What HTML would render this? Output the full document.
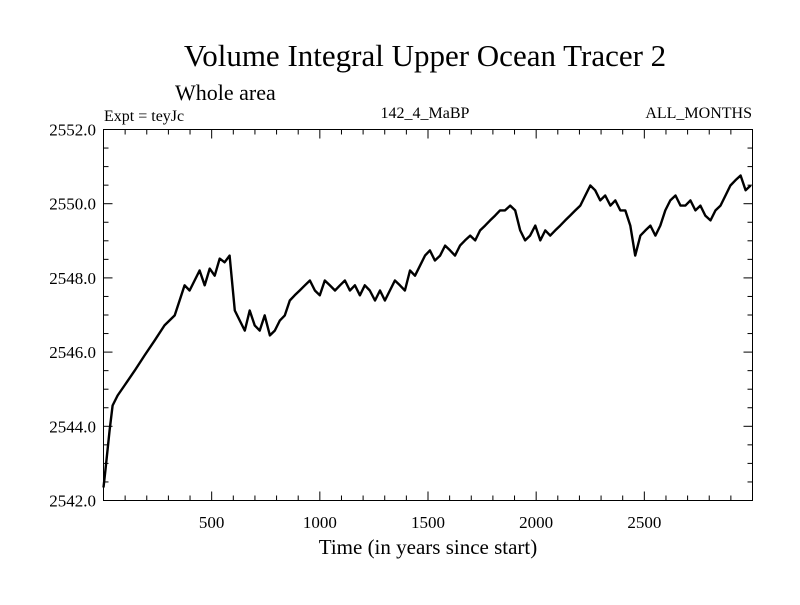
<!DOCTYPE html>
<html><head><meta charset="utf-8"><style>
body{margin:0;background:#fff}
svg text{font-family:"Liberation Serif",serif;fill:#000}
</style></head><body>
<svg id="chart" width="800" height="600" xmlns="http://www.w3.org/2000/svg">
<rect width="800" height="600" fill="#fff"/>
<text x="425" y="66" font-size="31" text-anchor="middle">Volume Integral Upper Ocean Tracer 2</text>
<text x="175" y="100" font-size="22">Whole area</text>
<text x="104" y="121" font-size="16">Expt = teyJc</text>
<text x="425" y="118" font-size="16" text-anchor="middle">142_4_MaBP</text>
<text x="752" y="118" font-size="16" text-anchor="end">ALL_MONTHS</text>
<text x="428" y="554" font-size="21" text-anchor="middle">Time (in years since start)</text>
<g id="ticks"></g>
<path id="line" fill="none" stroke="#000" stroke-width="2.4" stroke-linejoin="round"/>
<rect x="103.5" y="129.5" width="649" height="371" fill="none" stroke="#000" stroke-width="1"/>
</svg>
<script>
const years=[0,9,28,42,65,97,144,190,236,282,329,352,375,398,421,444,468,491,514,537,560,583,607,630,653,676,699,722,745,769,792,815,838,861,884,907,931,954,977,1000,1023,1046,1070,1093,1116,1139,1162,1185,1208,1231,1255,1278,1301,1324,1347,1370,1393,1417,1440,1463,1486,1509,1532,1556,1579,1602,1625,1648,1671,1695,1718,1741,1764,1787,1810,1833,1856,1880,1903,1926,1949,1972,1996,2019,2042,2065,2088,2111,2134,2157,2181,2204,2227,2250,2273,2296,2319,2343,2366,2389,2412,2435,2458,2482,2505,2528,2551,2574,2597,2620,2644,2667,2690,2713,2736,2759,2782,2806,2829,2852,2875,2898,2921,2945,2968,2991];
const values=[2542.35,2542.81,2543.89,2544.56,2544.83,2545.10,2545.50,2545.91,2546.31,2546.72,2546.99,2547.39,2547.80,2547.66,2547.93,2548.20,2547.80,2548.25,2548.06,2548.52,2548.42,2548.60,2547.12,2546.85,2546.58,2547.12,2546.72,2546.58,2546.99,2546.45,2546.58,2546.85,2546.99,2547.39,2547.53,2547.66,2547.80,2547.93,2547.66,2547.53,2547.93,2547.80,2547.66,2547.80,2547.93,2547.66,2547.80,2547.53,2547.80,2547.66,2547.39,2547.66,2547.39,2547.66,2547.93,2547.80,2547.66,2548.20,2548.06,2548.33,2548.60,2548.74,2548.47,2548.60,2548.87,2548.74,2548.60,2548.87,2549.01,2549.14,2549.01,2549.28,2549.41,2549.55,2549.68,2549.82,2549.82,2549.95,2549.82,2549.28,2549.01,2549.14,2549.41,2549.01,2549.28,2549.14,2549.28,2549.41,2549.55,2549.68,2549.82,2549.95,2550.22,2550.49,2550.36,2550.09,2550.22,2549.95,2550.09,2549.82,2549.82,2549.41,2548.60,2549.14,2549.28,2549.41,2549.14,2549.41,2549.82,2550.09,2550.22,2549.95,2549.95,2550.09,2549.82,2549.95,2549.68,2549.55,2549.82,2549.95,2550.22,2550.49,2550.63,2550.76,2550.36,2550.49];
const xTickLabels=["500","1000","1500","2000","2500"];
const yTickLabels=["2542.0","2544.0","2546.0","2548.0","2550.0","2552.0"];
const X0=103.5,X1=752.5,Y0=500.5,Y1=129.5,XMIN=0,XMAX=3000,YMIN=2542,YMAX=2552;
const sx=t=>X0+(t-XMIN)/(XMAX-XMIN)*(X1-X0);
const sy=v=>Y0-(v-YMIN)/(YMAX-YMIN)*(Y0-Y1);
let d='';years.forEach((t,i)=>{d+=(i?'L':'M')+sx(t).toFixed(1)+','+sy(values[i]).toFixed(1);});
document.getElementById('line').setAttribute('d',d);
const g=document.getElementById('ticks');const NS='http://www.w3.org/2000/svg';
function ln(x1,y1,x2,y2){const l=document.createElementNS(NS,'line');l.setAttribute('x1',x1);l.setAttribute('y1',y1);l.setAttribute('x2',x2);l.setAttribute('y2',y2);l.setAttribute('stroke','#000');


g.appendChild(l);}
function tx(x,y,s,a,name){const t=document.createElementNS(NS,'text');t.setAttribute('x',x);t.setAttribute('y',y);t.setAttribute('font-size','17');t.setAttribute('text-anchor',a);t.textContent=s;


g.appendChild(t);}
for(let t=100;t<3000;t+=100){const x=sx(t);const L=t%500===0?9:5;ln(x,Y0,x,Y0-L);ln(x,Y1,x,Y1+L);}
xTickLabels.forEach(s=>tx(sx(+s),528,s,'middle','x-tick-label'));
for(let v=2542.5;v<2552;v+=0.5){const y=sy(v);const L=Math.abs(v%2)<1e-6?9:5;ln(X0,y,X0+L,y);ln(X1,y,X1-L,y);}
yTickLabels.forEach(s=>tx(96,sy(+s)+6,s,'end','y-tick-label'));
</script>
</body></html>
